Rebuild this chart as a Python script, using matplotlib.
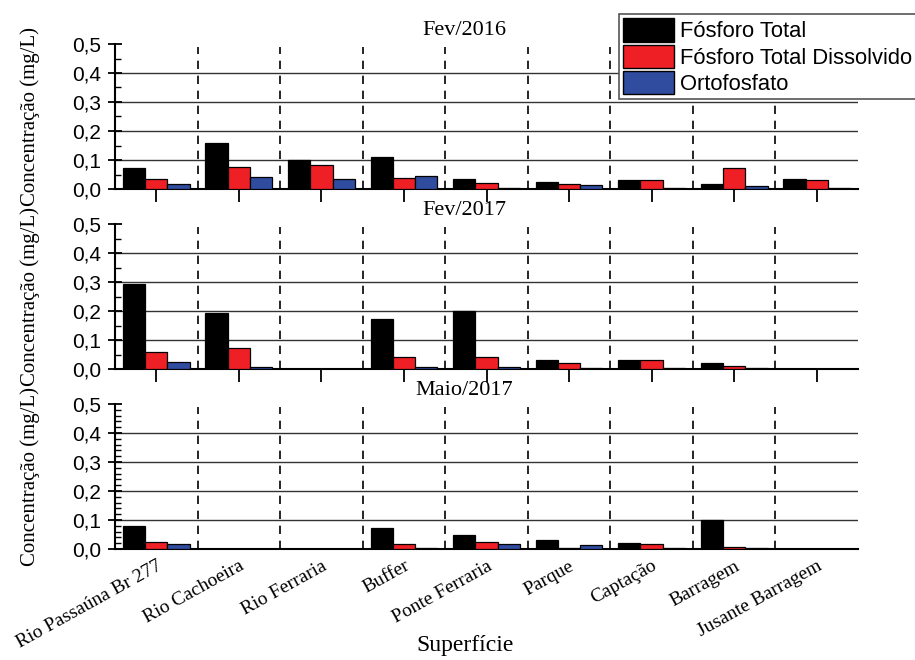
import matplotlib
matplotlib.use("Agg")
import matplotlib.pyplot as plt
import numpy as np
from matplotlib.patches import Patch
from matplotlib.ticker import FuncFormatter, MultipleLocator

SITES = ["Rio Passaúna Br 277", "Rio Cachoeira", "Rio Ferraria", "Buffer",
         "Ponte Ferraria", "Parque", "Captação", "Barragem", "Jusante Barragem"]
SERIES = ["Fósforo Total", "Fósforo Total Dissolvido", "Ortofosfato"]
CAMPAIGNS = ["Fev/2016", "Fev/2017", "Maio/2017"]

# concentrations in mg/L, one list per site order above
fev16_pt = [0.072, 0.159, 0.100, 0.110, 0.034, 0.024, 0.030, 0.018, 0.036]
fev16_ptd = [0.034, 0.076, 0.083, 0.038, 0.020, 0.017, 0.032, 0.073, 0.032]
fev16_orto = [0.017, 0.041, 0.034, 0.045, 0.003, 0.013, 0.003, 0.010, 0.003]

fev17_pt = [0.292, 0.192, 0.0, 0.172, 0.200, 0.032, 0.031, 0.020, 0.001]
fev17_ptd = [0.060, 0.071, 0.0, 0.041, 0.040, 0.020, 0.031, 0.010, 0.001]
fev17_orto = [0.023, 0.006, 0.0, 0.007, 0.008, 0.004, 0.005, 0.003, 0.001]

mai17_pt = [0.080, 0.0, 0.0, 0.073, 0.047, 0.032, 0.022, 0.100, 0.001]
mai17_ptd = [0.024, 0.0, 0.0, 0.016, 0.025, 0.003, 0.016, 0.006, 0.001]
mai17_orto = [0.018, 0.0, 0.0, 0.005, 0.017, 0.015, 0.003, 0.003, 0.001]

DATA = [
    [fev16_pt, fev16_ptd, fev16_orto],
    [fev17_pt, fev17_ptd, fev17_orto],
    [mai17_pt, mai17_ptd, mai17_orto],
]
COLORS = ["#000000", "#ee2026", "#2f4c9f"]

SERIF = "Liberation Serif"
SANS = "Liberation Sans"

W, H = 915, 660
fig = plt.figure(figsize=(W / 100, H / 100), dpi=100)

left, right = 115 / W, 858 / W
panel_px = [(44, 189), (224, 369), (404, 549)]
x = np.arange(len(SITES))
bw = 0.27
comma = FuncFormatter(lambda v, pos: f"{v:.1f}".replace(".", ","))

for k, (top_px, bot_px) in enumerate(panel_px):
    ax = fig.add_axes([left, 1 - bot_px / H, right - left, (bot_px - top_px) / H])
    for s in range(3):
        ax.bar(x + (s - 1) * bw, DATA[k][s], width=bw, color=COLORS[s],
               edgecolor="black", linewidth=0.9, zorder=3)
    for b in x[:-1] + 0.5:
        ax.axvline(b, color="black", linestyle=(0, (5, 4)), linewidth=1.2, ymax=0.98, zorder=2)
    for g in [0.1, 0.2, 0.3, 0.4]:
        ax.axhline(g, color="#333333", linewidth=1.0, zorder=1)

    ax.set_xlim(-0.5, len(SITES) - 0.5)
    ax.set_ylim(0, 0.5)
    ax.spines["top"].set_visible(False)
    ax.spines["right"].set_visible(False)
    ax.spines["left"].set_linewidth(1.5)
    ax.spines["bottom"].set_linewidth(1.5)

    ax.yaxis.set_major_locator(MultipleLocator(0.1))
    ax.yaxis.set_major_formatter(comma)
    ax.yaxis.set_minor_locator(MultipleLocator(0.02 if k == 2 else 0.05))
    ax.tick_params(axis="y", which="major", direction="inout", length=10, width=1.3, pad=5)
    ax.tick_params(axis="y", which="minor", direction="in", length=4, width=1.0)
    for t in ax.get_yticklabels():
        t.set_fontfamily(SANS)
        t.set_fontsize(15)

    ax.set_xticks(x)
    if k < 2:
        ax.set_xticklabels([])
        ax.tick_params(axis="x", direction="out", length=9, width=1.3)
    else:
        ax.tick_params(axis="x", length=0, pad=6)
        ax.set_xticklabels(SITES, rotation=29, ha="right", va="top", rotation_mode="anchor",
                           fontfamily=SERIF, fontsize=14)

    ax.set_ylabel("Concentração (mg/L)", fontfamily=SERIF, fontsize=15)
    ax.yaxis.set_label_coords(-0.101, 0.5)
    ax.text(0.47, 1.03, CAMPAIGNS[k], transform=ax.transAxes, ha="center", va="bottom",
            fontfamily=SERIF, fontsize=16)

fig.text(465 / W, 1 - 646 / H, "Superfície", ha="center", va="center",
         fontfamily=SERIF, fontsize=17)

handles = [Patch(facecolor=c, edgecolor="black", linewidth=1.0) for c in COLORS]
leg = fig.legend(handles, SERIES, loc="upper left", bbox_to_anchor=(619 / W, 1 - 14 / H),
                 prop={"family": SANS, "size": 15.8}, frameon=True, fancybox=False,
                 framealpha=1, edgecolor="#555555", handlelength=2.3, handleheight=1.25,
                 labelspacing=0.1, handletextpad=0.3, borderpad=0.2, borderaxespad=0)
leg.get_frame().set_linewidth(1.2)

fig.savefig("out.png", dpi=100)
